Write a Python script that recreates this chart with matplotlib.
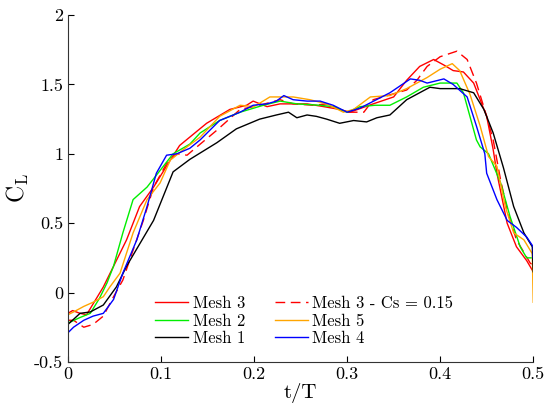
import matplotlib
matplotlib.use("Agg")
import matplotlib.pyplot as plt

plt.rcParams['font.family'] = ['cmr10', 'DejaVu Serif']
plt.rcParams['mathtext.fontset'] = 'cm'
plt.rcParams['axes.unicode_minus'] = False

# Mesh 3 (solid red)
t_mesh3 = [0, 0.005, 0.013, 0.02, 0.038, 0.063, 0.077, 0.092, 0.11, 0.12, 0.149, 0.174, 0.192,
           0.199, 0.214, 0.228, 0.246, 0.257, 0.275, 0.292, 0.303, 0.328, 0.35, 0.364, 0.378,
           0.393, 0.404, 0.414, 0.425, 0.436, 0.45, 0.457, 0.461, 0.472, 0.482, 0.493, 0.5]
cl_mesh3 = [-0.15, -0.13, -0.15, -0.16, 0.04, 0.38, 0.62, 0.76, 0.955, 1.06, 1.22, 1.32, 1.35,
            1.38, 1.34, 1.36, 1.36, 1.36, 1.34, 1.32, 1.30, 1.36, 1.41, 1.53, 1.63,
            1.68, 1.64, 1.60, 1.59, 1.51, 1.27, 1.03, 0.86, 0.50, 0.33, 0.23, 0.15]

# Mesh 3 - Cs = 0.15 (dashed red)
t_cs = [0, 0.006, 0.017, 0.027, 0.038, 0.049, 0.059, 0.081, 0.092, 0.106, 0.117, 0.128, 0.135,
        0.16, 0.185, 0.206, 0.228, 0.242, 0.264, 0.278, 0.3, 0.318, 0.328, 0.364, 0.375,
        0.386, 0.4, 0.418, 0.429, 0.439, 0.45, 0.457, 0.465, 0.473, 0.482, 0.497, 0.5]
cl_cs = [-0.2, -0.2, -0.25, -0.23, -0.17, -0.03, 0.09, 0.52, 0.76, 0.93, 1.0, 0.99, 1.03,
         1.17, 1.32, 1.35, 1.39, 1.36, 1.35, 1.36, 1.30, 1.30, 1.39, 1.46, 1.53,
         1.63, 1.70, 1.74, 1.68, 1.51, 1.27, 1.10, 0.81, 0.57, 0.38, 0.21, 0.2]

# Mesh 2 (green)
t_mesh2 = [0, 0.013, 0.024, 0.034, 0.042, 0.049, 0.059, 0.07, 0.085, 0.099, 0.113, 0.131, 0.142,
           0.163, 0.185, 0.21, 0.228, 0.246, 0.271, 0.285, 0.3, 0.314, 0.33, 0.346, 0.364,
           0.382, 0.4, 0.418, 0.425, 0.432, 0.439, 0.443, 0.452, 0.465, 0.475, 0.486, 0.493, 0.5]
cl_mesh2 = [-0.22, -0.18, -0.15, -0.04, 0.07, 0.19, 0.43, 0.67, 0.76, 0.88, 1.0, 1.07, 1.15,
            1.24, 1.30, 1.35, 1.38, 1.36, 1.35, 1.34, 1.30, 1.34, 1.35, 1.35, 1.41,
            1.48, 1.51, 1.51, 1.44, 1.27, 1.10, 1.05, 1.0, 0.79, 0.55, 0.33, 0.25, 0.25]

# Mesh 1 (black)
t_mesh1 = [0, 0.013, 0.024, 0.038, 0.052, 0.063, 0.092, 0.113, 0.131, 0.16, 0.181, 0.206, 0.224,
           0.237, 0.246, 0.257, 0.267, 0.278, 0.292, 0.307, 0.321, 0.332, 0.346, 0.364, 0.389,
           0.4, 0.421, 0.436, 0.447, 0.457, 0.468, 0.479, 0.49, 0.499, 0.5]
cl_mesh1 = [-0.23, -0.15, -0.14, -0.09, 0.04, 0.19, 0.52, 0.87, 0.96, 1.08, 1.18, 1.25, 1.28,
            1.30, 1.26, 1.28, 1.27, 1.25, 1.22, 1.24, 1.23, 1.26, 1.28, 1.39, 1.48,
            1.47, 1.47, 1.44, 1.32, 1.15, 0.9, 0.62, 0.43, 0.33, 0.15]

# Mesh 5 (orange)
t_mesh5 = [0, 0, 0.006, 0.017, 0.027, 0.038, 0.045, 0.056, 0.07, 0.085, 0.099, 0.11, 0.124, 0.142,
           0.163, 0.185, 0.2, 0.217, 0.242, 0.26, 0.278, 0.296, 0.307, 0.325, 0.346, 0.364,
           0.386, 0.4, 0.413, 0.421, 0.432, 0.443, 0.452, 0.461, 0.47, 0.479, 0.49, 0.499, 0.5]
cl_mesh5 = [-0.05, -0.16, -0.14, -0.10, -0.07, -0.03, 0.04, 0.14, 0.43, 0.67, 0.79, 0.955, 1.03, 1.12,
            1.27, 1.35, 1.34, 1.41, 1.41, 1.39, 1.36, 1.30, 1.32, 1.41, 1.42, 1.47,
            1.55, 1.61, 1.65, 1.60, 1.43, 1.20, 0.98, 0.91, 0.62, 0.43, 0.38, 0.28, -0.07]

# Mesh 4 (blue)
t_mesh4 = [0, 0, 0.006, 0.017, 0.027, 0.038, 0.049, 0.059, 0.074, 0.085, 0.095, 0.106, 0.117, 0.131,
           0.142, 0.163, 0.185, 0.199, 0.214, 0.224, 0.232, 0.242, 0.257, 0.271, 0.285, 0.3,
           0.314, 0.346, 0.368, 0.378, 0.386, 0.404, 0.414, 0.429, 0.439, 0.448, 0.45, 0.461,
           0.472, 0.482, 0.493, 0.5, 0.5]
cl_mesh4 = [-0.18, -0.29, -0.25, -0.2, -0.17, -0.15, -0.05, 0.14, 0.38, 0.62, 0.86, 0.99, 1.0, 1.04,
            1.10, 1.24, 1.30, 1.35, 1.36, 1.38, 1.42, 1.39, 1.38, 1.38, 1.35, 1.30,
            1.33, 1.44, 1.54, 1.53, 1.51, 1.54, 1.50, 1.41, 1.20, 1.0, 0.86, 0.67,
            0.52, 0.47, 0.40, 0.33, 0.25]

x_ticks = [0, 0.1, 0.2, 0.3, 0.4, 0.5]
x_labels = ['0', '0.1', '0.2', '0.3', '0.4', '0.5']
y_ticks = [-0.5, 0, 0.5, 1, 1.5, 2]
y_labels = ['-0.5', '0', '0.5', '1', '1.5', '2']

fig = plt.figure(figsize=(5.48, 4.08), dpi=100)
ax = fig.add_axes([0.124, 0.113, 0.849, 0.850])

lw = 1.0
h3, = ax.plot(t_mesh3, cl_mesh3, color='#ff0000', lw=lw, label='Mesh 3')
hcs, = ax.plot(t_cs, cl_cs, color='#ff0000', lw=lw, ls=(0, (7, 4)), label='Mesh 3 - Cs = 0.15')
h2, = ax.plot(t_mesh2, cl_mesh2, color='#00ee00', lw=lw, label='Mesh 2')
h5, = ax.plot(t_mesh5, cl_mesh5, color='#ffa500', lw=lw, label='Mesh 5')
h1, = ax.plot(t_mesh1, cl_mesh1, color='black', lw=lw, label='Mesh 1')
h4, = ax.plot(t_mesh4, cl_mesh4, color='#0000ff', lw=lw, label='Mesh 4')

ax.set_xlim(0, 0.5)
ax.set_ylim(-0.5, 2)
ax.set_xticks(x_ticks, x_labels)
ax.set_yticks(y_ticks, y_labels)
ax.tick_params(direction='in', labelsize=13, length=4, width=0.8)
for s in ['top', 'right']:
    ax.spines[s].set_visible(False)
for s in ['left', 'bottom']:
    ax.spines[s].set_linewidth(0.8)
    ax.spines[s].set_color('#333333')

ax.set_xlabel('t/T', fontsize=15, labelpad=1)
ax.set_ylabel(r'$\mathrm{C_L}$', fontsize=17, labelpad=2)

handles = [h3, h2, h1, hcs, h5, h4]
ax.legend(handles, [h.get_label() for h in handles], ncol=2, frameon=False, fontsize=12,
          loc='lower left', bbox_to_anchor=(0.155, 0.003), handlelength=2.0, columnspacing=1.8,
          labelspacing=0.12, handletextpad=0.25)

fig.savefig('out.png', dpi=100)
